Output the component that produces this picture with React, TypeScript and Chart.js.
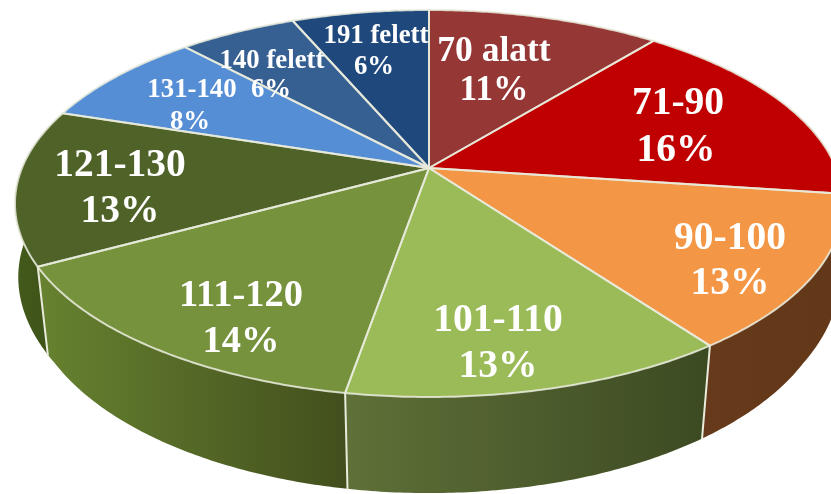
import React, { useEffect, useRef } from "react";
import { Chart, registerables } from "chart.js";

Chart.register(...registerables);

const categories = ["70 alatt", "71-90", "90-100", "101-110", "111-120", "121-130", "131-140", "140 felett", "191 felett"];
const shares = [10.85, 16.3, 12.85, 12.7, 14.3, 13, 8.1, 5.5, 6.4];
const percentLabels = ["11%", "16%", "13%", "13%", "14%", "13%", "8%", "6%", "6%"];
const topColors = ["#953735", "#C00000", "#F39645", "#9BBB59", "#76923C", "#4F6228", "#558ED5", "#376092", "#1F497D"];
const wallStops = [
  ["#7a2c2a", "#7a2c2a"],
  ["#7a1010", "#6a0808"],
  ["#663a1a", "#623818"],
  ["#5f7038", "#3c4a22"],
  ["#678230", "#424f1d"],
  ["#3c5016", "#445a1c"],
  ["#3b6296", "#3b6296"],
  ["#26466c", "#26466c"],
  ["#173659", "#173659"],
];
// [name x, name y, percent x, percent y, font size]
const labelPlacement = [
  [494, 52, 494, 91, 35.5],
  [678, 104, 676, 151, 39.5],
  [730, 239, 730, 284, 39.5],
  [498, 321, 498, 367, 39.5],
  [241, 296, 241, 342, 38.5],
  [120, 166, 120, 212, 39.5],
  [192, 90, 190, 122, 26.8],
  [272, 61, 271, 90, 26.8],
  [376, 36, 374, 67, 26.8],
];

const CX = 429, CY = 168, RX = 407, RY = 187, K = 0.1834;
const EDGE = "#e9ebdc";

const project = (theta: number, r = 1) => {
  const u = r * Math.sin(theta);
  const v = -r * Math.cos(theta);
  const w = 1 - K * v;
  return [CX + (RX * u) / w, CY + (RY * v) / w];
};
const lower = ([x, y]: number[]) => {
  const s = Math.max(0.972, 1 - 0.00026 * (y - CY));
  return [CX + s * (x - CX), 71.3 + 1.0625 * y];
};

const samples = (a: number, b: number) => {
  const out: number[] = [];
  const n = Math.max(2, Math.ceil(Math.abs(b - a) / 0.01));
  for (let i = 0; i <= n; i++) out.push(a + ((b - a) * i) / n);
  return out;
};

const pie3d = {
  id: "pie3d",
  beforeDatasetsDraw(chart: any) {
    const ctx = chart.ctx as CanvasRenderingContext2D;
    const arcs = chart.getDatasetMeta(0).data as any[];
    const ang = arcs.map((a) => [a.startAngle + Math.PI / 2, a.endAngle + Math.PI / 2]);
    const wallMin = (72 * Math.PI) / 180, wallMax = (288 * Math.PI) / 180;
    ctx.save();
    ctx.lineJoin = "round";
    ctx.lineCap = "round";

    // side walls
    ang.forEach(([s, e], i) => {
      const a = Math.max(s, wallMin), b = Math.min(e, wallMax);
      if (b <= a) return;
      const top = samples(a, b).map((t) => project(t));
      const bottom = top.map(lower);
      const xs = top.concat(bottom).map((p) => p[0]);
      const g = ctx.createLinearGradient(Math.min(...xs), 0, Math.max(...xs), 0);
      const [c0, c1] = wallStops[i];
      const flip = top[0][0] > top[top.length - 1][0];
      g.addColorStop(0, flip ? c0 : c1);
      g.addColorStop(1, flip ? c1 : c0);
      ctx.beginPath();
      top.forEach((p, j) => (j ? ctx.lineTo(p[0], p[1]) : ctx.moveTo(p[0], p[1])));
      bottom.reverse().forEach((p) => ctx.lineTo(p[0], p[1]));
      ctx.closePath();
      ctx.fillStyle = g;
      ctx.fill();
    });
    // wall vertical seams
    ang.forEach(([, e]) => {
      if (e <= wallMin || e >= wallMax) return;
      const p = project(e), q = lower(p);
      ctx.beginPath();
      ctx.moveTo(p[0], p[1]);
      ctx.lineTo(q[0], q[1]);
      ctx.strokeStyle = EDGE;
      ctx.lineWidth = 2;
      ctx.stroke();
    });

    // top face
    ang.forEach(([s, e], i) => {
      ctx.beginPath();
      ctx.moveTo(CX, CY);
      samples(s, e).forEach((t) => {
        const p = project(t);
        ctx.lineTo(p[0], p[1]);
      });
      ctx.closePath();
      ctx.fillStyle = arcs[i].options.backgroundColor;
      ctx.fill();
    });
    ang.forEach(([s, e]) => {
      ctx.beginPath();
      ctx.moveTo(CX, CY);
      samples(s, e).forEach((t) => {
        const p = project(t);
        ctx.lineTo(p[0], p[1]);
      });
      ctx.closePath();
      ctx.strokeStyle = "rgba(233,235,220,0.85)";
      ctx.lineWidth = 2;
      ctx.stroke();
    });

    // labels
    ctx.fillStyle = "#ffffff";
    ctx.textAlign = "center";
    ctx.textBaseline = "middle";
    categories.forEach((name, i) => {
      const [nx, ny, px, py, size] = labelPlacement[i];
      ctx.font = `bold ${size}px "Liberation Serif"`;
      ctx.fillText(name, nx, ny);
      ctx.fillText(percentLabels[i], px, py);
    });
    ctx.restore();
    return false;
  },
};

export default function App() {
  const ref = useRef<HTMLCanvasElement>(null);
  useEffect(() => {
    const chart = new Chart(ref.current!, {
      type: "pie",
      data: {
        labels: categories,
        datasets: [{ data: shares, backgroundColor: topColors, borderWidth: 0 }],
      },
      options: {
        responsive: false,
        animation: false,
        plugins: { legend: { display: false }, tooltip: { enabled: false }, title: { display: false } },
      },
      plugins: [pie3d],
    } as any);
    return () => chart.destroy();
  }, []);
  return (
    <canvas
      ref={ref}
      width={831}
      height={494}
      style={{ position: "absolute", left: 0, top: 0, width: 831, height: 494, display: "block" }}
    />
  );
}
